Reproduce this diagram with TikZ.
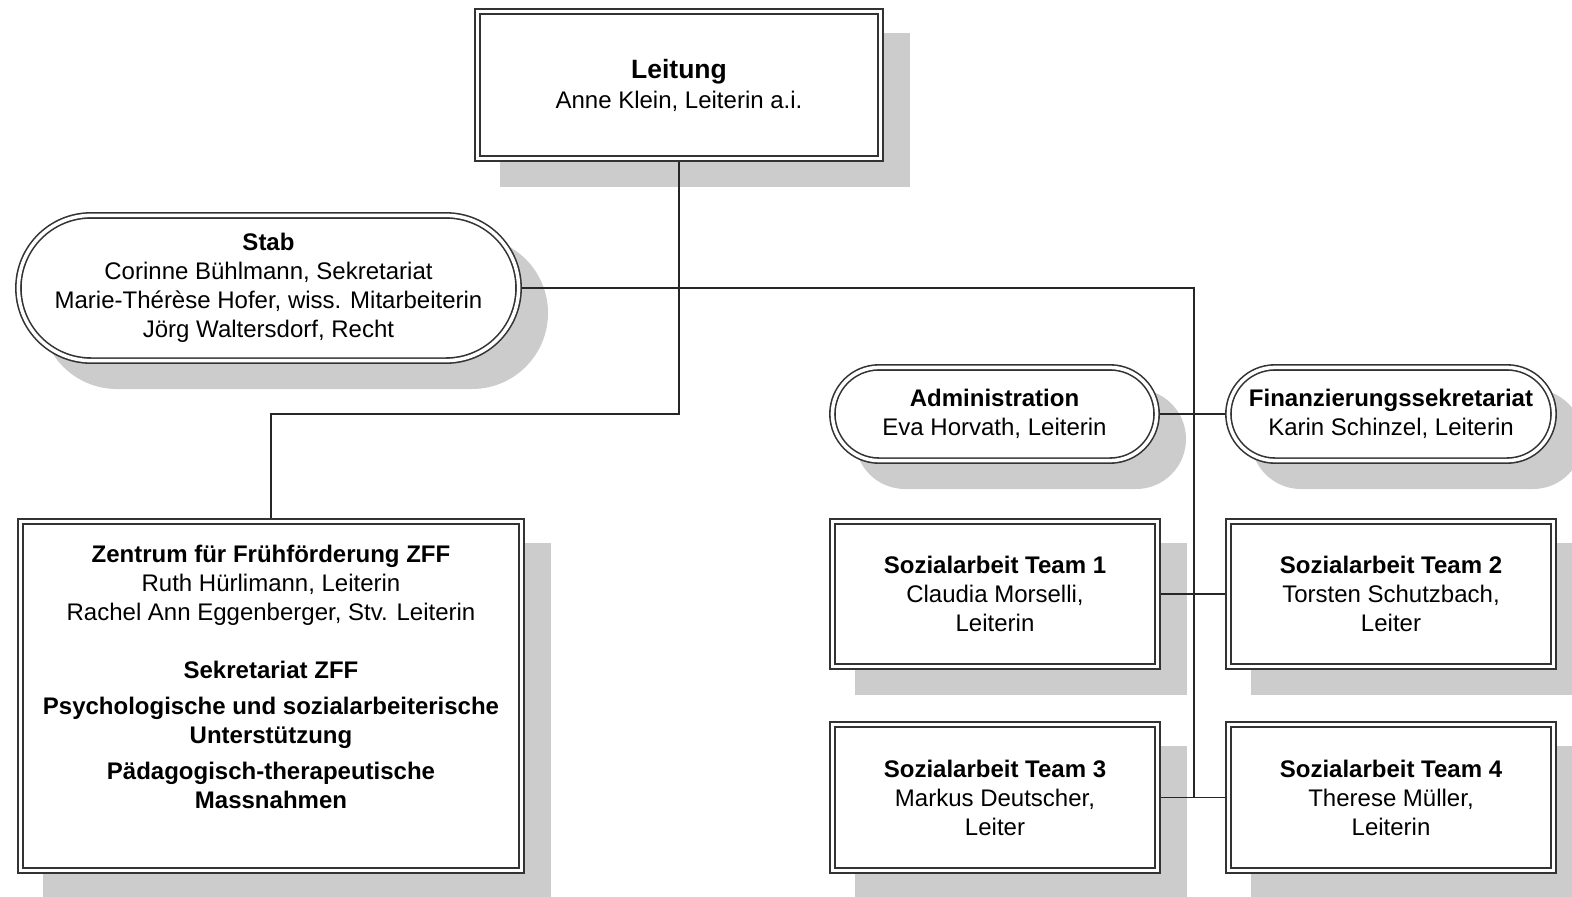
\documentclass[tikz,border=0pt]{standalone}
\usepackage{fontspec}
\setmainfont{Liberation Sans}
\definecolor{shadowc}{HTML}{CCCCCC}
\definecolor{bordc}{HTML}{333333}
\pgfdeclarelayer{shadows}
\pgfdeclarelayer{links}
\pgfsetlayers{shadows,links,main}
\tikzset{
  orgbox/.style={draw=bordc, line width=1.6pt, double=white, double distance=3.5pt,
    fill=white, inner sep=0pt, align=center, text=black,
    font=\fontsize{24}{29}\selectfont},
  pill/.style={orgbox, rounded corners=#1},
  link/.style={draw=black!85, line width=1.4pt},
  shade/.style={fill=shadowc}
}
\begin{document}
\begin{tikzpicture}[x=1pt,y=-1pt]
\useasboundingbox (0,0) rectangle (1572,897);
\clip (0,0) rectangle (1572,897);

% boxes
\node[orgbox, minimum width=403.2pt, minimum height=147.2pt] (lei) at (679,85)
  {\textbf{\fontsize{26.5}{31}\selectfont Leitung}\\[1pt]Anne Klein, Leiterin a.i.};
\node[pill=72.6pt, minimum width=500.2pt, minimum height=145.2pt] (stab) at (268.5,288)
  {\textbf{Stab}\\Corinne Bühlmann, Sekretariat\\Marie-Thérèse Hofer, wiss. Mitarbeiterin\\Jörg Waltersdorf, Recht};
\node[pill=46.6pt, minimum width=324.2pt, minimum height=93.2pt] (adm) at (994.5,414)
  {\textbf{Administration}\\Eva Horvath, Leiterin};
\node[pill=46.6pt, minimum width=325.2pt, minimum height=93.2pt] (fin) at (1391,414)
  {\textbf{Finanzierungssekretariat}\\Karin Schinzel, Leiterin};
\node[orgbox, minimum width=325.2pt, minimum height=145.2pt] (t1) at (995,594)
  {\textbf{Sozialarbeit Team 1}\\Claudia Morselli,\\Leiterin};
\node[orgbox, minimum width=325.2pt, minimum height=145.2pt] (t2) at (1391,594)
  {\textbf{Sozialarbeit Team 2}\\Torsten Schutzbach,\\Leiter};
\node[orgbox, minimum width=325.2pt, minimum height=146.2pt] (t3) at (995,797.5)
  {\textbf{Sozialarbeit Team 3}\\Markus Deutscher,\\Leiter};
\node[orgbox, minimum width=325.2pt, minimum height=146.2pt] (t4) at (1391,797.5)
  {\textbf{Sozialarbeit Team 4}\\Therese Müller,\\Leiterin};
\node[orgbox, minimum width=501.2pt, minimum height=349.2pt] (zff) at (271,696) {};
\node[align=center, inner sep=0pt, font=\fontsize{24}{29}\selectfont] (zfftext) at (271,677)
  {\textbf{Zentrum für Frühförderung ZFF}\\Ruth Hürlimann, Leiterin\\Rachel Ann Eggenberger, Stv. Leiterin\\[29pt]
   \textbf{Sekretariat ZFF}\\[7pt]
   \textbf{Psychologische und sozialarbeiterische}\\\textbf{Unterstützung}\\[7pt]
   \textbf{Pädagogisch-therapeutische}\\\textbf{Massnahmen}};

% shadows
\begin{pgfonlayer}{shadows}
  \fill[shade] (500,33) rectangle (910,187);
  \fill[shade, rounded corners=75.9pt] (41,237) rectangle (548,389);
  \fill[shade, rounded corners=49.9pt] (855,389) rectangle (1186,489);
  \fill[shade, rounded corners=49.9pt] (1251,389) rectangle (1583,489);
  \fill[shade] (855,543) rectangle (1187,695);
  \fill[shade] (1251,543) rectangle (1583,695);
  \fill[shade] (855,746) rectangle (1187,899);
  \fill[shade] (1251,746) rectangle (1583,899);
  \fill[shade] (43,543) rectangle (551,899);
\end{pgfonlayer}

% connectors
\coordinate (jl) at (679,414);
\coordinate (spT) at (1194,288);
\coordinate (spB) at (1194,797.5);
\begin{pgfonlayer}{links}
  \draw[link] (lei.south) -- (jl) -| (zff.north);
  \draw[link] (stab.east) -- (spT) -- (spB);
  \draw[link] (adm.east) -- (fin.west);
  \draw[link] (t1.east) -- (t2.west);
  \draw[link] (t3.east) -- (t4.west);
\end{pgfonlayer}
\end{tikzpicture}
\end{document}
